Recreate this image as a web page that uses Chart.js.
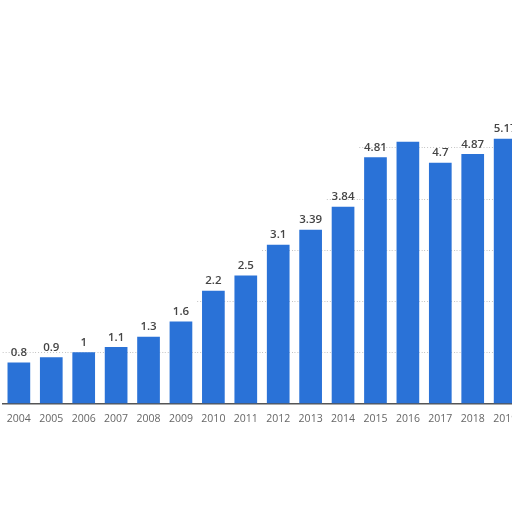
<!DOCTYPE html>
<html>
<head>
<meta charset="utf-8">
<script src="https://cdn.jsdelivr.net/npm/chart.js@4.4.1/dist/chart.umd.min.js"></script>
<style>
  html, body { margin: 0; padding: 0; background: #fff; overflow: hidden; }
  #wrap { position: absolute; left: -2px; top: 0; width: 528px; height: 512px; }
</style>
</head>
<body>
<div id="wrap"><canvas id="chart"></canvas></div>
<script>
// ---- data ------------------------------------------------------------------
const YEARS  = ['2004', '2005', '2006', '2007', '2008', '2009', '2010', '2011',
                '2012', '2013', '2014', '2015', '2016', '2017', '2018', '2019'];
const VALUES = [0.8, 0.9, 1, 1.1, 1.3, 1.6, 2.2, 2.5,
                3.1, 3.39, 3.84, 4.81, 5.11, 4.7, 4.87, 5.17];
const LABELS = ['0.8', '0.9', '1', '1.1', '1.3', '1.6', '2.2', '2.5',
                '3.1', '3.39', '3.84', '4.81', '', '4.7', '4.87', '5.17'];
const GRID_LINES = [1, 2, 3, 4, 5];

const BAR_BLUE = '#2a72d7';
const FONT = '"Open Sans", "DejaVu Sans", sans-serif';

// dotted grid lines, only drawn under the bar "envelope" (value + label room)
const envelopeGridPlugin = {
  id: 'envelopeGrid',
  beforeDatasetsDraw(chart) {
    const { ctx, scales: { x, y }, chartArea } = chart;
    const meta = chart.getDatasetMeta(0);
    const half = (x.getPixelForValue(1) - x.getPixelForValue(0)) / 2;
    ctx.save();
    ctx.strokeStyle = '#c4c4c4';
    ctx.lineWidth = 1;
    ctx.setLineDash([1, 2]);
    GRID_LINES.forEach(v => {
      const py = Math.round(y.getPixelForValue(v)) + 0.5;
      ctx.beginPath();
      meta.data.forEach((bar, i) => {
        if (VALUES[i] + 0.35 < v) return;
        const x0 = i === 0 ? chartArea.left : bar.x - half;
        const x1 = i === meta.data.length - 1 ? chartArea.right : bar.x + half;
        ctx.moveTo(x0, py);
        ctx.lineTo(x1, py);
      });
      ctx.stroke();
    });
    ctx.restore();
  },
};

// value labels above each bar
const valueLabelPlugin = {
  id: 'valueLabels',
  afterDatasetsDraw(chart) {
    const ctx = chart.ctx;
    const meta = chart.getDatasetMeta(0);
    ctx.save();
    ctx.font = `600 11.5px ${FONT}`;
    ctx.fillStyle = '#454545';
    ctx.textAlign = 'center';
    ctx.textBaseline = 'bottom';
    meta.data.forEach((bar, i) => {
      if (LABELS[i]) ctx.fillText(LABELS[i], bar.x, bar.y - 4);
    });
    ctx.restore();
  },
};

new Chart(document.getElementById('chart'), {
  type: 'bar',
  data: {
    labels: YEARS,
    datasets: [{
      data: VALUES,
      backgroundColor: BAR_BLUE,
      barPercentage: 0.7,
      categoryPercentage: 1,
    }],
  },
  plugins: [envelopeGridPlugin, valueLabelPlugin],
  options: {
    animation: false,
    responsive: true,
    maintainAspectRatio: false,
    layout: { padding: { left: 0, right: 0, top: 0, bottom: 78 } },
    plugins: { legend: { display: false }, tooltip: { enabled: false } },
    scales: {
      x: {
        offset: true,
        grid: { display: false, drawTicks: false },
        border: { display: true, color: '#555', width: 1.5 },
        ticks: { color: '#666', padding: 9, maxRotation: 0, autoSkip: false,
                 font: { size: 10.5, family: FONT } },
      },
      y: {
        display: false,
        min: 0, max: 7.88,
      },
    },
  },
});
</script>
</body>
</html>
